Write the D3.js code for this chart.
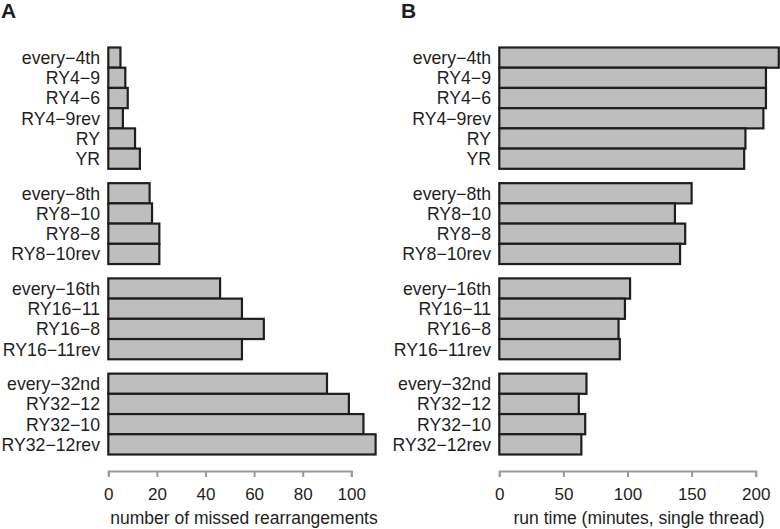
<!DOCTYPE html>
<html>
<head>
<meta charset="utf-8">
<script src="https://cdn.jsdelivr.net/npm/d3@7"></script>
<style>
  html, body { margin: 0; padding: 0; background: #fff; }
  svg text { font-family: "Liberation Sans", Arial, Helvetica, sans-serif; fill: #1e1e1e; }
</style>
</head>
<body>
<svg id="chart" width="780" height="529"></svg>
<script>
// ---- data ----
const categories = [
  "every\u22124th", "RY4\u22129", "RY4\u22126", "RY4\u22129rev", "RY", "YR",
  "every\u22128th", "RY8\u221210", "RY8\u22128", "RY8\u221210rev",
  "every\u221216th", "RY16\u221211", "RY16\u22128", "RY16\u221211rev",
  "every\u221232nd", "RY32\u221212", "RY32\u221210", "RY32\u221212rev"
];
const groupOf = [0,0,0,0,0,0, 1,1,1,1, 2,2,2,2, 3,3,3,3];
const missedRearrangements = [5, 7, 8, 6, 11, 13, 17, 18, 21, 21, 46, 55, 64, 55, 90, 99, 105, 110];
const runTimeMinutes = [218, 208, 208, 206, 192, 191, 150, 137, 145, 141, 102, 98, 93, 94, 68, 62, 67, 64];
const ticksA = [0, 20, 40, 60, 80, 100];
const ticksB = [0, 50, 100, 150, 200];
const titleA = "number of missed rearrangements";
const titleB = "run time (minutes, single thread)";

// ---- layout ----
const svg = d3.select("#chart");
const gapRatio = 0.71;
const nBars = categories.length;
const nGroups = 4;
const y = d3.scaleLinear()
  .domain([0, nBars + (nGroups - 1) * gapRatio])
  .range([47.5, 454.5]);
const slot = i => i + groupOf[i] * gapRatio;

const axisY = 471;

function panel(opts) {
  const g = svg.append("g");
  const x = d3.scaleLinear().domain(opts.domain).range(opts.range);

  g.selectAll("rect.bar")
    .data(opts.values)
    .enter().append("rect")
    .attr("class", "bar")
    .attr("x", x(0))
    .attr("y", (d, i) => y(slot(i)))
    .attr("width", d => x(d) - x(0))
    .attr("height", y(1) - y(0))
    .attr("fill", "#bebebe")
    .attr("stroke", "#1e1e1e")
    .attr("stroke-width", 2.2);

  g.selectAll("text.cat")
    .data(categories)
    .enter().append("text")
    .attr("class", "cat")
    .attr("x", opts.labelRight)
    .attr("y", (d, i) => y(slot(i) + 0.5))
    .attr("dy", "0.36em")
    .attr("text-anchor", "end")
    .style("font-size", "17.7px")
    .text(d => d);

  const axis = d3.axisBottom(x)
    .tickValues(opts.ticks)
    .tickSize(6)
    .tickPadding(11)
    .tickFormat(d3.format("d"));
  const ag = g.append("g")
    .attr("transform", `translate(0,${axisY})`)
    .call(axis);
  ag.select(".domain").attr("stroke", "#9a9a9a").attr("stroke-width", 2);
  ag.selectAll(".tick line").attr("stroke", "#9a9a9a").attr("stroke-width", 2);
  ag.selectAll(".tick text")
    .style("font-size", "17px")
    .attr("fill", "#1e1e1e");

  g.append("text")
    .attr("x", opts.titleX)
    .attr("y", 523.5)
    .attr("text-anchor", "middle")
    .style("font-size", "17.5px")
    .text(opts.title);

  svg.append("text")
    .attr("x", opts.letterX)
    .attr("y", 18)
    .style("font-size", "21px")
    .style("font-weight", "bold")
    .text(opts.letter);
}

panel({
  values: missedRearrangements,
  domain: [0, 100], range: [108.3, 351.3],
  ticks: ticksA, labelRight: 100, title: titleA, titleX: 244,
  letter: "A", letterX: 1
});
panel({
  values: runTimeMinutes,
  domain: [0, 200], range: [499.3, 755.7],
  ticks: ticksB, labelRight: 491, title: titleB, titleX: 639,
  letter: "B", letterX: 401
});
</script>
</body>
</html>
